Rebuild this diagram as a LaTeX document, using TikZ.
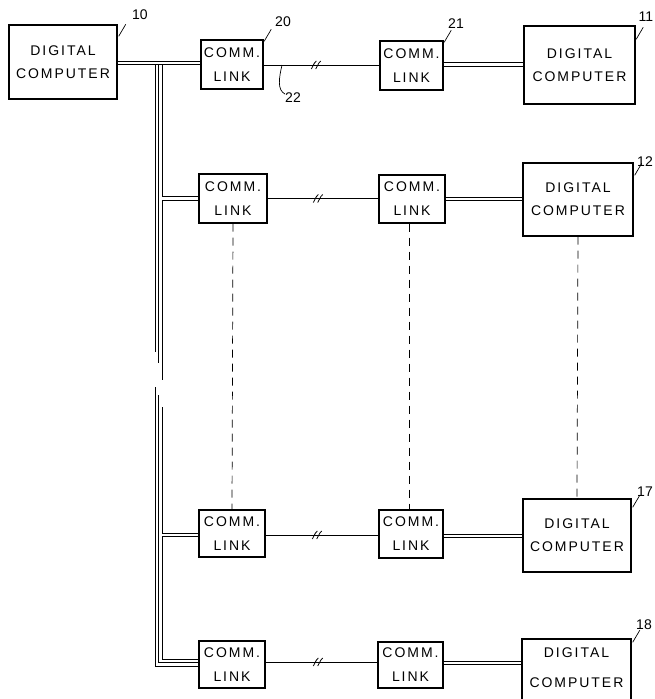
\documentclass[tikz,border=0pt]{standalone}
\usepackage{fontspec}
\setmainfont{Liberation Sans}
\newfontfamily\boxfont[LetterSpace=14]{Liberation Sans}
\usetikzlibrary{calc}
\begin{document}
\begin{tikzpicture}[x=1pt,y=-1pt]
\useasboundingbox (0,0) rectangle (654,699);
\tikzset{
  box/.style={draw, line width=1.4pt, inner sep=0pt, align=center,
    font=\boxfont\fontsize{14}{23}\selectfont},
  lnk/.style={box, font=\boxfont\fontsize{14}{24}\selectfont},
  ctext/.style={inner sep=0pt, align=center, font=\boxfont\fontsize{14}{30}\selectfont},
  num/.style={inner sep=0pt, font=\fontsize{14}{14}\selectfont},
  dbl/.style={line width=1pt, double distance=2.6pt},
  sgl/.style={line width=0.8pt},
  bl/.style={line width=0.9pt},
  dsh/.style={line width=0.7pt, dash pattern=on 8pt off 6pt},
  brk/.pic={\foreach \d in {-2.2,2.2}{\draw[line width=0.8pt] (\d-2.5,4) .. controls (\d-0.5,2) and (\d-1,-1) .. (\d+2.5,-4);}},
  ldr/.pic={\draw[line width=0.7pt] (0,0) .. controls (3,-2) and (1,-5) .. (3.5,-6) .. controls (6,-7) and (4,-10) .. (7,-12);}
}
% row 1
\node[box, minimum width=108pt, minimum height=74pt] (c10) at (63,62) {DIGITAL\\COMPUTER};
\node[lnk, minimum width=62pt, minimum height=49pt] (l20) at (232,64.5) {COMM.\\LINK};
\node[lnk, minimum width=63pt, minimum height=49pt] (l21) at (411.5,65.5) {COMM.\\LINK};
\node[box, minimum width=111pt, minimum height=78pt] (c11) at (579.5,65) {DIGITAL\\COMPUTER};
% row 2
\node[lnk, minimum width=68pt, minimum height=49pt] (l2a) at (233,198.5) {COMM.\\LINK};
\node[lnk, minimum width=66pt, minimum height=48pt] (l2b) at (412,199) {COMM.\\LINK};
\node[box, minimum width=110pt, minimum height=73pt] (c12) at (578,199.5) {DIGITAL\\COMPUTER};
% row 3
\node[lnk, minimum width=66pt, minimum height=47pt] (l3a) at (232,533.5) {COMM.\\LINK};
\node[lnk, minimum width=64pt, minimum height=48pt] (l3b) at (411,534) {COMM.\\LINK};
\node[box, minimum width=108pt, minimum height=73pt] (c17) at (577,535.5) {DIGITAL\\COMPUTER};
% row 4
\node[lnk, minimum width=66pt, minimum height=47pt] (l4a) at (232,664.5) {COMM.\\LINK};
\node[lnk, minimum width=65pt, minimum height=46pt] (l4b) at (410.5,665) {COMM.\\LINK};
\node[box, minimum width=109pt, minimum height=73pt] (c18) at (576.5,675.5) {};
\node[ctext] (t18) at (576.5,668) {DIGITAL\\COMPUTER};

% row 1 connections
\draw[dbl] (c10.east |- 0,63) -- (l20.west |- 0,63);
\draw[sgl] (l20.east |- 0,65) -- (l21.west |- 0,65);
\draw[dbl] (l21.east |- 0,64.5) -- (c11.west |- 0,64.5);
% bus
\draw[bl] (155.5,65) -- (155.5,352);
\draw[bl] (158.8,65) -- (158.8,363);
\draw[bl] (162,65) -- (162,380);
\draw[bl] (155.5,387) -- (155.5,666) -- (l4a.west |- 0,666);
\draw[bl] (158.8,395) -- (158.8,662.5) -- (l4a.west |- 0,662.5);
\draw[bl] (162,407) -- (162,659) -- (l4a.west |- 0,659);
% row 2
\coordinate (b2) at (162,198.5);
\draw[dbl] (b2) -- (l2a.west |- b2);
\draw[sgl] (l2a.east |- 0,198.5) -- (l2b.west |- 0,198.5);
\draw[dbl] (l2b.east |- 0,199) -- (c12.west |- 0,199);
% row 3
\coordinate (b3) at (162,535);
\draw[dbl] (b3) -- (l3a.west |- b3);
\draw[sgl] (l3a.east |- 0,535) -- (l3b.west |- 0,535);
\draw[dbl] (l3b.east |- 0,536) -- (c17.west |- 0,536);
% row 4
\draw[sgl] (l4a.east |- 0,662) -- (l4b.west |- 0,662);
\draw[dbl] (l4b.east |- 0,663) -- (c18.west |- 0,663);
% breaks
\pic at (316,65) {brk};
\pic at (318,198.5) {brk};
\pic at (317,535) {brk};
\pic at (318,662) {brk};
% dashed
\draw[dsh] (l2a.south) -- (l3a.north);
\draw[dsh] (l2b.south -| 409,0) -- (l3b.north -| 409,0);
\draw[dsh] (c12.south) -- (c17.north);
% leaders and numbers
\pic at ($(c10.north east)+(1,12)$) {ldr};
\node[num] (n10) at (140,15) {10};
\pic at ($(l20.north east)+(0.5,2)$) {ldr};
\node[num] (n20) at (283,22) {20};
\pic at ($(l21.north east)+(0.5,2)$) {ldr};
\node[num] (n21) at (456,24) {21};
\pic at ($(c11.north east)+(0.5,14)$) {ldr};
\node[num] (n11) at (646,17) {11};
\pic at ($(c12.north east)+(1,13)$) {ldr};
\node[num] (n12) at (645,162) {12};
\pic at ($(c17.north east)+(1,9)$) {ldr};
\node[num] (n17) at (645,492) {17};
\pic at ($(c18.north east)+(1,4)$) {ldr};
\node[num] (n18) at (644,625) {18};
\coordinate (p22) at (282,65);
\draw[line width=0.7pt] (p22) .. controls (279,78) and (277,90) .. (285,94);
\node[num] (n22) at (293,98) {22};
\end{tikzpicture}
\end{document}
